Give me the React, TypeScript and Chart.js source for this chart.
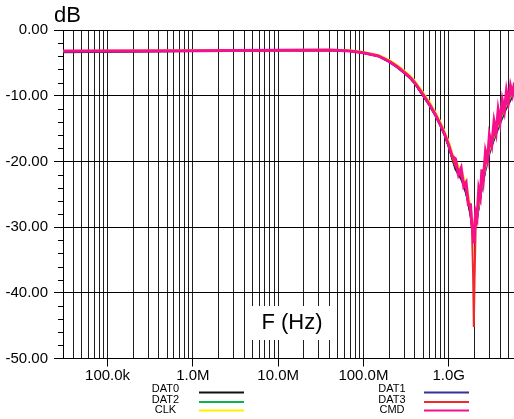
import React, { useEffect, useRef } from "react";
import { Chart, registerables } from "chart.js";

Chart.register(...registerables);

// Frequency points (Hz)
const FREQ_HZ = [
  3e4, 1e6, 1e7, 4e7, 7e7, 1e8, 1.5e8, 2e8, 2.5e8, 3e8, 3.5e8, 4e8, 5e8, 6e8, 7e8, 8e8, 9e8,
  1.0e9, 1.1e9, 1.2e9, 1.3e9, 1.4e9, 1.5e9, 1.6e9, 1.7e9, 1.8e9, 1.87e9, 1.93e9, 1.97e9, 2.01e9,
  2.07e9, 2.15e9, 2.25e9, 2.35e9, 2.45e9, 2.55e9, 2.7e9, 2.85e9, 3.0e9, 3.2e9, 3.4e9, 3.6e9,
  3.8e9, 4.0e9, 4.25e9, 4.5e9, 4.75e9, 5.0e9, 5.3e9, 5.6e9, 5.9e9,
];

const DAT0_DB = [
  -3.3, -3.2, -3.1, -3.05, -3.2, -3.45, -3.95, -4.8, -5.65, -6.5, -7.25, -8.1, -9.95, -11.5, -13.0,
  -14.5, -16.0, -17.7, -19.5, -21.0, -21.8, -22.5, -23.5, -24.7, -26.3, -28.0, -29.4, -30.0, -30.5,
  -30.0, -29.6, -28.5, -26.9, -25.4, -23.9, -22.8, -21.1, -19.8, -18.6, -17.5, -16.5, -15.6, -14.8,
  -14.0, -13.2, -12.4, -11.7, -11.2, -10.5, -9.9, -9.4,
];
const DAT1_DB = [
  -3.4, -3.2, -3.1, -3.05, -3.2, -3.5, -4.0, -4.85, -5.7, -6.55, -7.3, -8.15, -10.0, -11.55, -13.05,
  -14.6, -16.1, -17.8, -19.6, -21.2, -22.0, -22.7, -23.7, -24.9, -26.5, -28.2, -29.6, -30.2, -30.2,
  -29.8, -29.4, -28.7, -27.0, -25.6, -24.0, -23.0, -21.3, -20.0, -18.8, -17.7, -16.7, -15.8, -15.0,
  -14.2, -13.4, -12.6, -11.9, -11.4, -10.7, -10.1, -9.6,
];
const DAT2_DB = [
  -3.25, -3.15, -3.1, -3.05, -3.2, -3.45, -3.9, -4.7, -5.55, -6.35, -7.1, -7.95, -9.8, -11.35, -12.85,
  -14.35, -15.8, -17.4, -19.1, -20.4, -21.2, -21.8, -22.8, -24.0, -25.6, -27.3, -28.8, -29.8, -30.0,
  -29.8, -29.3, -28.4, -26.7, -25.2, -23.7, -22.6, -20.9, -19.6, -18.4, -17.3, -16.3, -15.4, -14.6,
  -13.8, -13.0, -12.2, -11.5, -11.0, -10.3, -9.7, -9.2,
];
const DAT3_DB = [
  -3.25, -3.2, -3.1, -3.05, -3.2, -3.45, -3.95, -4.75, -5.6, -6.45, -7.2, -8.05, -9.9, -11.45, -12.95,
  -14.45, -15.95, -17.6, -19.4, -20.8, -21.5, -22.3, -23.2, -24.4, -26.0, -27.8, -30.0, -37.0, -45.2,
  -38.0, -30.2, -28.0, -26.2, -24.8, -23.2, -22.3, -20.5, -19.3, -18.0, -17.0, -16.0, -15.0, -14.3,
  -13.4, -12.7, -11.8, -11.2, -10.6, -9.9, -9.3, -8.9,
];
const CLK_DB = [
  -3.2, -3.1, -3.05, -3.0, -3.1, -3.35, -3.8, -4.55, -5.35, -6.15, -6.9, -7.7, -9.5, -11.0, -12.5,
  -14.0, -15.5, -17.0, -18.7, -19.9, -20.7, -21.3, -22.4, -23.6, -25.2, -26.9, -28.4, -29.3, -29.6,
  -29.4, -29.0, -28.2, -26.5, -25.0, -23.5, -22.4, -20.7, -19.4, -18.2, -17.1, -16.1, -15.2, -14.4,
  -13.6, -12.8, -12.0, -11.3, -10.8, -10.1, -9.5, -9.0,
];
const CMD_DB = [
  -3.2, -3.15, -3.1, -3.05, -3.2, -3.45, -3.95, -4.75, -5.6, -6.4, -7.15, -8.0, -9.85, -11.4, -12.9,
  -14.4, -15.9, -17.5, -19.2, -19.6, -22.0, -21.0, -23.8, -23.2, -26.6, -26.6, -29.8, -30.4, -32.5,
  -30.5, -27.8, -28.6, -24.2, -25.3, -21.2, -22.8, -18.5, -19.8, -16.0, -17.5, -13.9, -15.6, -12.2,
  -14.0, -10.7, -12.3, -9.3, -11.0, -8.5, -9.8, -8.0,
];

const SERIES_NAMES = ["CMD", "DAT3", "CLK", "DAT2", "DAT0", "DAT1"];
const SERIES_VALUES = [CMD_DB, DAT3_DB, CLK_DB, DAT2_DB, DAT0_DB, DAT1_DB];
const SERIES_COLORS: Record<string, string> = {
  DAT0: "#111111",
  DAT1: "#333399",
  DAT2: "#10b050",
  DAT3: "#f02a2a",
  CLK: "#fff000",
  CMD: "#f5108c",
};

const X_MIN = 3e4;
const X_MAX = 5.83e9;
const X_TICK_VALUES = [1e5, 1e6, 1e7, 1e8, 1e9];
const X_TICK_LABELS = ["100.0k", "1.0M", "10.0M", "100.0M", "1.0G"];
const Y_MIN = -50;
const Y_MAX = 0;
const Y_STEP = 10;
const Y_MINOR_STEP = 2;

const LEGEND_LEFT = ["DAT0", "DAT2", "CLK"];
const LEGEND_RIGHT = ["DAT1", "DAT3", "CMD"];

const FONT = "'Liberation Sans', Arial, Helvetica, sans-serif";

function gridValues(): number[] {
  const out: number[] = [];
  for (let e = 4; e <= 9; e++) {
    for (let m = 1; m <= 9; m++) {
      const v = m * Math.pow(10, e);
      if (v >= X_MIN - 1 && v <= X_MAX) out.push(v);
    }
  }
  return out;
}

const decorPlugin = {
  id: "decor",
  afterDraw(chart: any) {
    const ctx = chart.ctx;
    const area = chart.chartArea;
    const y = chart.scales.y;
    ctx.save();
    // minor y ticks
    ctx.strokeStyle = "#000";
    ctx.lineWidth = 1;
    for (let v = Y_MIN; v <= Y_MAX; v += Y_MINOR_STEP) {
      if (v % Y_STEP === 0) continue;
      const py = Math.round(y.getPixelForValue(v)) + 0.5;
      ctx.beginPath();
      ctx.moveTo(area.left - 5, py);
      ctx.lineTo(area.left, py);
      ctx.stroke();
    }
    // dB title
    ctx.fillStyle = "#000";
    ctx.font = `22px ${FONT}`;
    ctx.textAlign = "left";
    ctx.textBaseline = "middle";
    ctx.fillText("dB", 54, 16);

    // F (Hz) box
    ctx.fillStyle = "#fff";
    ctx.fillRect(247, 306, 88, 34);
    ctx.fillStyle = "#000";
    ctx.font = `22px ${FONT}`;
    ctx.textAlign = "center";
    ctx.textBaseline = "middle";
    ctx.fillText("F (Hz)", 292, 323);

    // legend
    ctx.font = `11px ${FONT}`;
    const rowsText = [388.5, 399.5, 410];
    const rowsLine = [392.5, 402, 410.5];
    const drawCol = (names: string[], cx: number, x0: number, x1: number) => {
      names.forEach((n, i) => {
        ctx.fillStyle = "#000";
        ctx.textAlign = "center";
        ctx.fillText(n, cx, rowsText[i]);
        ctx.strokeStyle = SERIES_COLORS[n];
        ctx.lineWidth = 2;
        ctx.beginPath();
        ctx.moveTo(x0, rowsLine[i]);
        ctx.lineTo(x1, rowsLine[i]);
        ctx.stroke();
      });
    };
    drawCol(LEGEND_LEFT, 165.5, 199, 244);
    drawCol(LEGEND_RIGHT, 392, 424, 469);
    ctx.restore();
  },
};

export default function App() {
  const ref = useRef<HTMLCanvasElement | null>(null);
  useEffect(() => {
    if (!ref.current) return;
    const grid = gridValues();
    const datasets = SERIES_NAMES.map((name, k) => ({
      label: name,
      data: FREQ_HZ.map((f, i) => ({ x: f, y: SERIES_VALUES[k][i] })),
      borderColor: SERIES_COLORS[name],
      backgroundColor: SERIES_COLORS[name],
      borderWidth: name === "CMD" ? 3 : 2,
      pointRadius: 0,
      tension: 0,
      fill: false,
      order: k,
    }));
    const chart = new Chart(ref.current, {
      type: "line",
      data: { datasets },
      options: {
        animation: false,
        responsive: false,
        events: [],
        layout: { padding: { top: 30, right: 0, left: 0, bottom: 0 } },
        plugins: { legend: { display: false }, tooltip: { enabled: false } },
        scales: {
          x: {
            type: "logarithmic",
            min: X_MIN,
            max: X_MAX,
            bounds: "data",
            afterBuildTicks: (scale: any) => {
              scale.ticks = grid.map((v) => ({ value: v }));
            },
            afterFit: (scale: any) => {
              scale.height = 60.5;
            },
            ticks: {
              autoSkip: false,
              maxRotation: 0,
              minRotation: 0,
              padding: 0,
              color: "#000",
              font: { family: FONT, size: 15 },
              callback: (value: any) => {
                const idx = X_TICK_VALUES.findIndex((t) => Math.abs(t - value) / t < 1e-6);
                return idx >= 0 ? X_TICK_LABELS[idx] : "";
              },
            },
            grid: {
              color: "#1e1e1e",
              lineWidth: 1,
              drawTicks: true,
              tickLength: 8,
              tickColor: (c: any) => {
                const v = c.tick ? c.tick.value : 0;
                return X_TICK_VALUES.some((t) => Math.abs(t - v) / t < 1e-6) ? "#000" : "rgba(0,0,0,0)";
              },
            },
            border: { display: true, color: "#000", width: 1 },
          },
          y: {
            type: "linear",
            min: Y_MIN,
            max: Y_MAX,
            afterFit: (scale: any) => {
              scale.width = 63;
            },
            ticks: {
              stepSize: Y_STEP,
              padding: 6,
              color: "#000",
              font: { family: FONT, size: 15 },
              callback: (v: any) => Number(v).toFixed(2),
            },
            grid: { color: "#000", lineWidth: 1, drawTicks: true, tickLength: 9, tickColor: "#000" },
            border: { display: true, color: "#000", width: 1 },
          },
        },
      },
      plugins: [decorPlugin],
    } as any);
    return () => chart.destroy();
  }, []);
  return (
    <div style={{ position: "absolute", left: 0, top: 0, width: 514, height: 419, background: "#fff" }}>
      <canvas ref={ref} width={514} height={419} style={{ display: "block" }} />
    </div>
  );
}
